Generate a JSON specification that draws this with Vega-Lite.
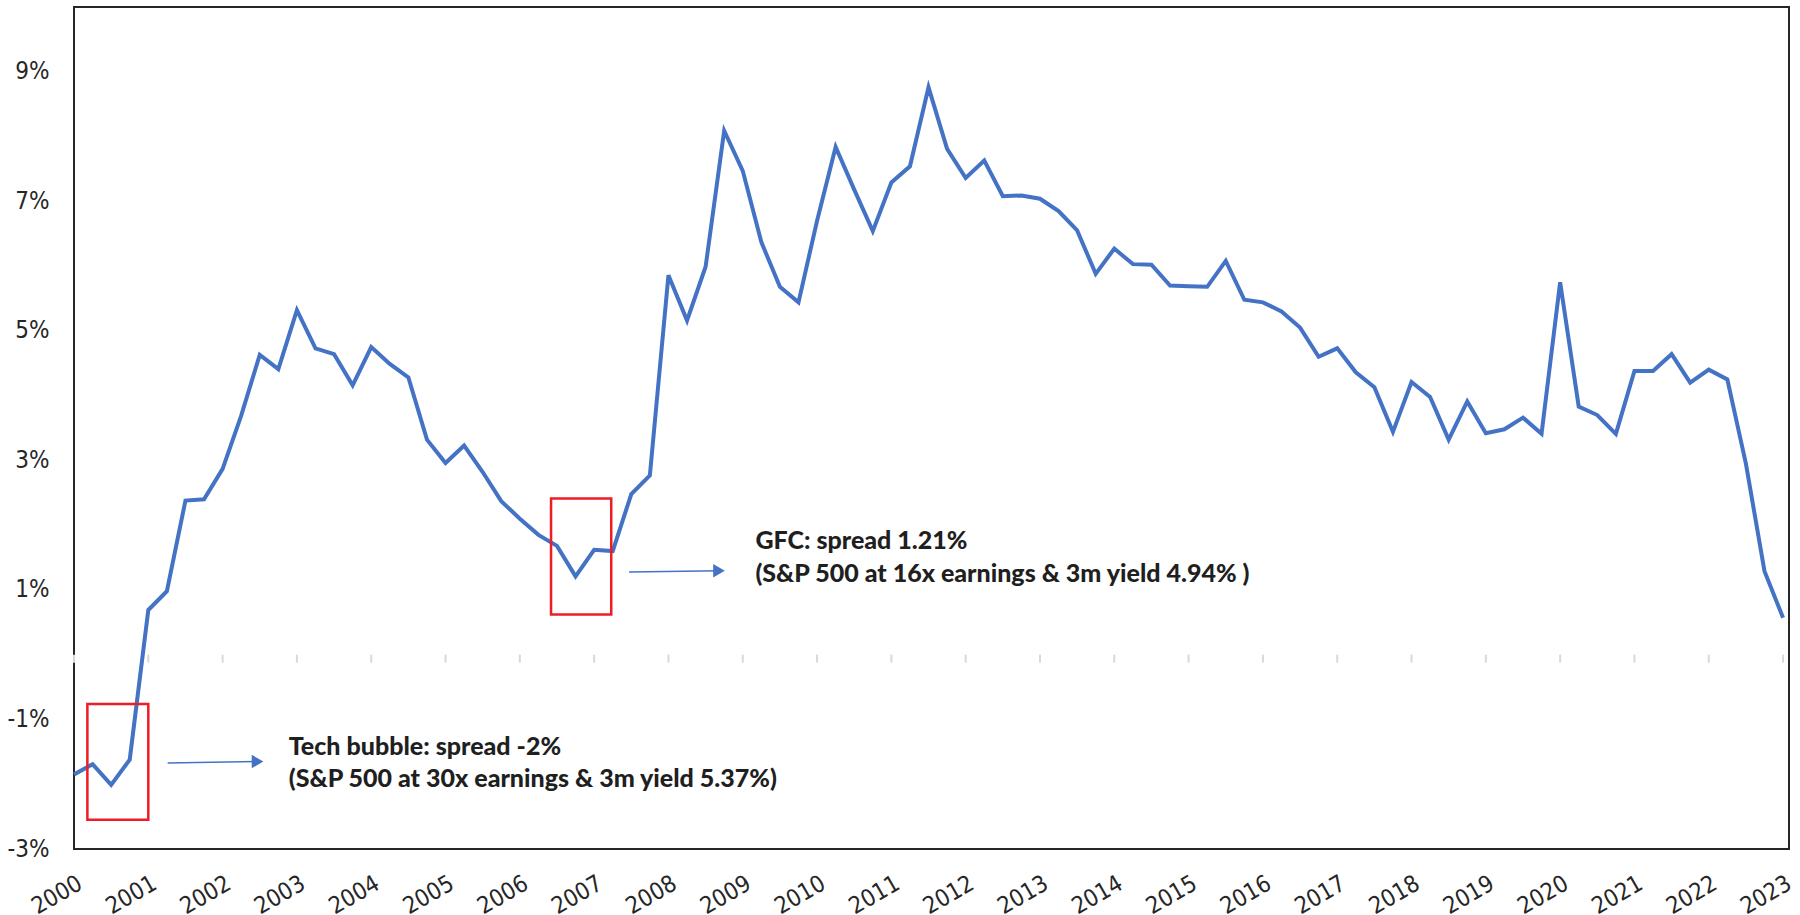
{
  "$schema": "https://vega.github.io/schema/vega-lite/v6.json",
  "autosize": {"type": "none"},
  "padding": {"left": 74, "top": 7, "right": 11, "bottom": 66},
  "width": 1715,
  "height": 842,
  "background": "white",
  "config": {
    "view": {"stroke": "#262626", "strokeWidth": 2},
    "font": "Liberation Sans Narrow, DejaVu Sans Condensed, Roboto, sans-serif"
  },
  "datasets": {
    "spread": [
      {"t": 2000.00, "v": -1.85}, {"t": 2000.25, "v": -1.69}, {"t": 2000.50, "v": -2.01}, {"t": 2000.75, "v": -1.62},
      {"t": 2001.00, "v": 0.69}, {"t": 2001.25, "v": 0.98}, {"t": 2001.50, "v": 2.38}, {"t": 2001.75, "v": 2.40},
      {"t": 2002.00, "v": 2.87}, {"t": 2002.25, "v": 3.69}, {"t": 2002.50, "v": 4.63}, {"t": 2002.75, "v": 4.41},
      {"t": 2003.00, "v": 5.32}, {"t": 2003.25, "v": 4.73}, {"t": 2003.50, "v": 4.64}, {"t": 2003.75, "v": 4.16},
      {"t": 2004.00, "v": 4.75}, {"t": 2004.25, "v": 4.49}, {"t": 2004.50, "v": 4.28}, {"t": 2004.75, "v": 3.32},
      {"t": 2005.00, "v": 2.96}, {"t": 2005.25, "v": 3.23}, {"t": 2005.50, "v": 2.82}, {"t": 2005.75, "v": 2.37},
      {"t": 2006.00, "v": 2.10}, {"t": 2006.25, "v": 1.85}, {"t": 2006.50, "v": 1.68}, {"t": 2006.75, "v": 1.21},
      {"t": 2007.00, "v": 1.62}, {"t": 2007.25, "v": 1.60}, {"t": 2007.50, "v": 2.48}, {"t": 2007.75, "v": 2.77},
      {"t": 2008.00, "v": 5.86}, {"t": 2008.25, "v": 5.16}, {"t": 2008.50, "v": 5.99}, {"t": 2008.75, "v": 8.09},
      {"t": 2009.00, "v": 7.47}, {"t": 2009.25, "v": 6.37}, {"t": 2009.50, "v": 5.68}, {"t": 2009.75, "v": 5.44},
      {"t": 2010.00, "v": 6.70}, {"t": 2010.25, "v": 7.84}, {"t": 2010.50, "v": 7.18}, {"t": 2010.75, "v": 6.54},
      {"t": 2011.00, "v": 7.29}, {"t": 2011.25, "v": 7.54}, {"t": 2011.50, "v": 8.76}, {"t": 2011.75, "v": 7.81},
      {"t": 2012.00, "v": 7.36}, {"t": 2012.25, "v": 7.63}, {"t": 2012.50, "v": 7.08}, {"t": 2012.75, "v": 7.09},
      {"t": 2013.00, "v": 7.04}, {"t": 2013.25, "v": 6.85}, {"t": 2013.50, "v": 6.55}, {"t": 2013.75, "v": 5.88},
      {"t": 2014.00, "v": 6.27}, {"t": 2014.25, "v": 6.03}, {"t": 2014.50, "v": 6.02}, {"t": 2014.75, "v": 5.70},
      {"t": 2015.00, "v": 5.69}, {"t": 2015.25, "v": 5.68}, {"t": 2015.50, "v": 6.08}, {"t": 2015.75, "v": 5.48},
      {"t": 2016.00, "v": 5.44}, {"t": 2016.25, "v": 5.30}, {"t": 2016.50, "v": 5.05}, {"t": 2016.75, "v": 4.60},
      {"t": 2017.00, "v": 4.73}, {"t": 2017.25, "v": 4.36}, {"t": 2017.50, "v": 4.13}, {"t": 2017.75, "v": 3.44},
      {"t": 2018.00, "v": 4.21}, {"t": 2018.25, "v": 3.98}, {"t": 2018.50, "v": 3.32}, {"t": 2018.75, "v": 3.91},
      {"t": 2019.00, "v": 3.42}, {"t": 2019.25, "v": 3.48}, {"t": 2019.50, "v": 3.66}, {"t": 2019.75, "v": 3.41},
      {"t": 2020.00, "v": 5.75}, {"t": 2020.25, "v": 3.83}, {"t": 2020.50, "v": 3.70}, {"t": 2020.75, "v": 3.41},
      {"t": 2021.00, "v": 4.38}, {"t": 2021.25, "v": 4.38}, {"t": 2021.50, "v": 4.64}, {"t": 2021.75, "v": 4.20},
      {"t": 2022.00, "v": 4.40}, {"t": 2022.25, "v": 4.25}, {"t": 2022.50, "v": 2.95}, {"t": 2022.75, "v": 1.29},
      {"t": 2023.00, "v": 0.57}
    ],
    "years": [
      {"year": 2000}, {"year": 2001}, {"year": 2002}, {"year": 2003}, {"year": 2004}, {"year": 2005},
      {"year": 2006}, {"year": 2007}, {"year": 2008}, {"year": 2009}, {"year": 2010}, {"year": 2011},
      {"year": 2012}, {"year": 2013}, {"year": 2014}, {"year": 2015}, {"year": 2016}, {"year": 2017},
      {"year": 2018}, {"year": 2019}, {"year": 2020}, {"year": 2021}, {"year": 2022}, {"year": 2023}
    ],
    "boxes": [
      {"x1": 2000.18, "x2": 2001.0, "y1": -0.76, "y2": -2.55},
      {"x1": 2006.42, "x2": 2007.23, "y1": 2.41, "y2": 0.62}
    ],
    "arrows": [
      {"x1": 2001.26, "x2": 2002.47, "y1": -1.673, "y2": -1.65},
      {"x1": 2007.47, "x2": 2008.68, "y1": 1.277, "y2": 1.295}
    ],
    "heads": [
      {"x": 2002.47, "y": -1.65},
      {"x": 2008.68, "y": 1.295}
    ],
    "notes": [
      {"x": 2002.89, "y": -1.544, "label": "Tech bubble: spread -2%"},
      {"x": 2002.89, "y": -2.04, "label": "(S&P 500 at 30x earnings & 3m yield 5.37%)"},
      {"x": 2009.17, "y": 1.637, "label": "GFC: spread 1.21%"},
      {"x": 2009.17, "y": 1.127, "label": "(S&P 500 at 16x earnings & 3m yield 4.94% )"}
    ]
  },
  "layer": [
    {
      "data": {"name": "spread"},
      "mark": {"type": "line", "color": "#4472c4", "strokeWidth": 4},
      "encoding": {
        "x": {
          "field": "t", "type": "quantitative",
          "scale": {"domain": [2000, 2023.08], "nice": false, "zero": false},
          "axis": {
            "title": null, "values": [2000,2001,2002,2003,2004,2005,2006,2007,2008,2009,2010,2011,2012,2013,2014,2015,2016,2017,2018,2019,2020,2021,2022,2023],
            "format": "d", "labelAngle": -30, "labelAlign": "right", "labelBaseline": "top",
            "ticks": false, "domain": false, "grid": false, "labelPadding": 22, "labelDx": 5,
            "labelFontSize": 23.5, "labelFont": "Liberation Sans Narrow, DejaVu Sans Condensed, Roboto, sans-serif", "labelColor": "#262626",
            "labelFlush": false, "labelOverlap": false, "labelBound": false
          }
        },
        "y": {
          "field": "v", "type": "quantitative",
          "scale": {"domain": [-3, 10], "nice": false, "zero": false},
          "axis": {
            "title": null, "values": [-3, -1, 1, 3, 5, 7, 9], "labelExpr": "datum.value + '%'",
            "ticks": false, "domain": false, "grid": false, "labelPadding": 25,
            "labelFontSize": 24, "labelFont": "Liberation Sans Narrow, DejaVu Sans Condensed, Roboto, sans-serif", "labelColor": "#262626",
            "labelFlush": false, "labelOverlap": false
          }
        }
      }
    },
    {
      "mark": {"type": "rule", "color": "#d9d9d9", "strokeWidth": 2.5},
      "encoding": {"y": {"datum": 0, "type": "quantitative"}}
    },
    {
      "data": {"name": "years"},
      "mark": {"type": "tick", "orient": "vertical", "size": 8, "thickness": 2, "yOffset": 4, "color": "#d9d9d9", "opacity": 1},
      "encoding": {
        "x": {"field": "year", "type": "quantitative"},
        "y": {"datum": 0, "type": "quantitative"}
      }
    },
    {
      "data": {"name": "boxes"},
      "mark": {"type": "rect", "fillOpacity": 0, "stroke": "#ee1c25", "strokeWidth": 2.5},
      "encoding": {
        "x": {"field": "x1", "type": "quantitative"},
        "x2": {"field": "x2"},
        "y": {"field": "y1", "type": "quantitative"},
        "y2": {"field": "y2"}
      }
    },
    {
      "data": {"name": "arrows"},
      "mark": {"type": "rule", "color": "#4472c4", "strokeWidth": 1.5},
      "encoding": {
        "x": {"field": "x1", "type": "quantitative"},
        "x2": {"field": "x2"},
        "y": {"field": "y1", "type": "quantitative"},
        "y2": {"field": "y2"}
      }
    },
    {
      "data": {"name": "heads"},
      "mark": {"type": "point", "shape": "triangle-right", "filled": true, "color": "#4472c4", "size": 180, "opacity": 1},
      "encoding": {
        "x": {"field": "x", "type": "quantitative"},
        "y": {"field": "y", "type": "quantitative"}
      }
    },
    {
      "data": {"name": "notes"},
      "mark": {"type": "text", "align": "left", "baseline": "alphabetic", "font": "Lato", "fontWeight": 900, "fontSize": 25, "color": "#1f1f1f"},
      "encoding": {
        "x": {"field": "x", "type": "quantitative"},
        "y": {"field": "y", "type": "quantitative"},
        "text": {"field": "label"}
      }
    }
  ]
}
